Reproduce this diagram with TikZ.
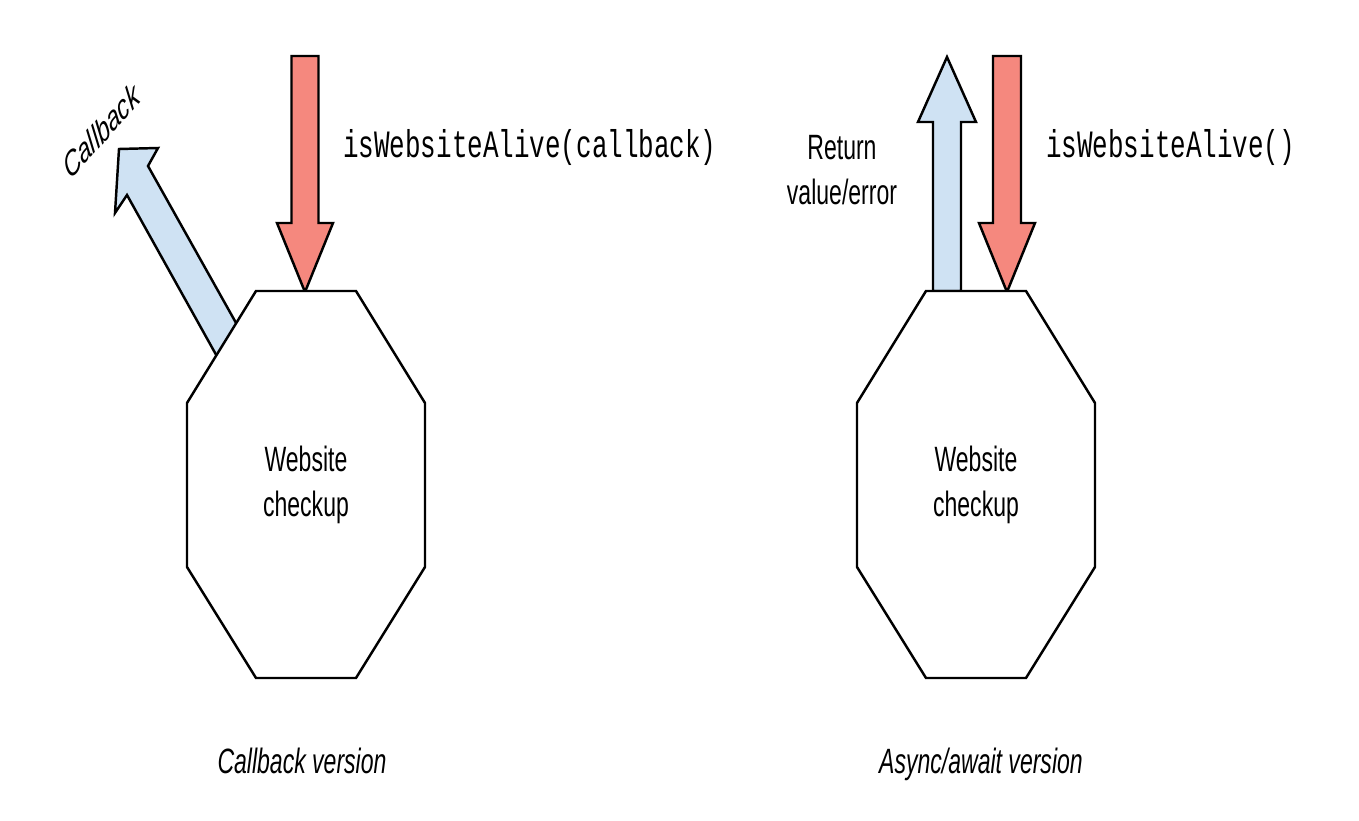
\documentclass[tikz,border=0pt]{standalone}
\usepackage{fontspec}
\usepackage{graphicx}
\setmainfont{Liberation Sans}[FakeStretch=0.655]
\newfontfamily\codefont{Liberation Mono}[FakeStretch=0.67]
\newfontfamily\plainfont{Liberation Sans}
\definecolor{callRed}{RGB}{245,136,126}
\definecolor{returnBlue}{RGB}{207,226,243}
\usetikzlibrary{positioning}

\begin{document}
\begin{tikzpicture}[x=0.01cm, y=-0.01cm, line width=0.7pt,
    fatred/.style={draw=black, fill=callRed, line join=miter},
    fatblue/.style={draw=black, fill=returnBlue, line join=miter},
    octa/.style={draw=black, fill=white, line join=miter},
    lbl/.style={font=\fontsize{10}{12.8}\selectfont, align=center},
    vercap/.style={font=\fontsize{10}{12.8}\selectfont\itshape, inner sep=0pt},
    codelbl/.style={font=\codefont\fontsize{11}{13}\selectfont, inner sep=0pt}]
  \useasboundingbox (0,0) rectangle (1359,821);
  % Callback version
  \draw[fatblue] (119,149) -- (158,148) -- (148,166) -- (240,330)
    -- (219,360) -- (127,195) -- (115,213) -- cycle;
  \draw[fatred] (305,292) -- (277,223) -- (291.5,223) -- (291.5,56)
    -- (318.5,56) -- (318.5,223) -- (333,223) -- cycle;
  \draw[octa] (256,291) -- (356,291) -- (425,403) -- (425,567)
    -- (356,678) -- (256,678) -- (187,567) -- (187,403) -- cycle;
  \node[lbl] (chkA) at (306,485) {Website\\checkup};
  \node[codelbl, anchor=base west] (callA) at (342,158) {isWebsiteAlive(callback)};
  \node[inner sep=0pt] (cbk) at (101,131)
    {\plainfont\itshape\fontsize{10}{12}\selectfont\scalebox{0.655}[1]{\rotatebox{36}{Callback}}};
  \node[vercap, anchor=base] (capA) at (302,773) {Callback version};
  % Async/await version
  \draw[fatblue] (947,57) -- (976,122) -- (961,122) -- (961,291)
    -- (933,291) -- (933,122) -- (918,122) -- cycle;
  \draw[fatred] (1007,292) -- (979,223) -- (993,223) -- (993,56)
    -- (1021,56) -- (1021,223) -- (1035,223) -- cycle;
  \draw[octa] (926,291) -- (1026,291) -- (1095,403) -- (1095,567)
    -- (1026,678) -- (926,678) -- (857,567) -- (857,403) -- cycle;
  \node[lbl] (chkB) at (976,485) {Website\\checkup};
  \node[codelbl, anchor=base west] (callB) at (1045,158) {isWebsiteAlive()};
  \node[lbl] (ret) at (842,170) {Return\\value/error};
  \node[vercap, anchor=base] (capB) at (981,773) {Async/await version};
\end{tikzpicture}
\end{document}
